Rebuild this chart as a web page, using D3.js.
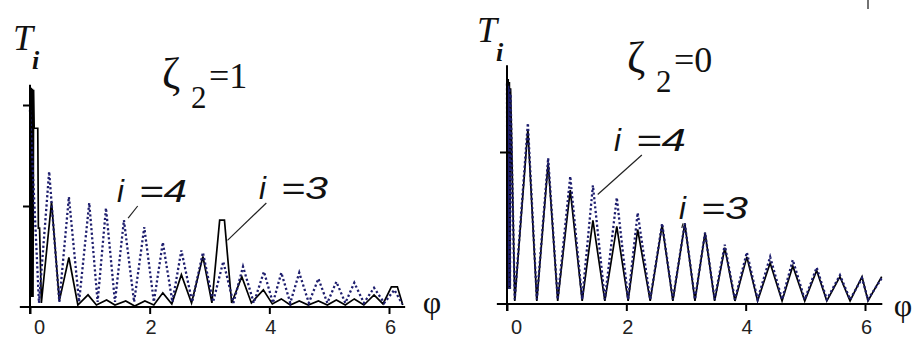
<!DOCTYPE html>
<html>
<head>
<meta charset="utf-8">
<script src="https://cdn.jsdelivr.net/npm/d3@7"></script>
<style>
  body { margin: 0; background: #fff; }
  svg { display: block; }
</style>
</head>
<body>
<div id="chart"></div>
<script>
// x tick labels shared by both panels
var xTicks = [0, 2, 4, 6];

// left panel, zeta2 = 1
var leftPhi3 = [0, 0.01, 0.02, 0.03, 0.04, 0.05, 0.06, 0.07, 0.13, 0.14, 0.16, 0.19, 0.36, 0.49, 0.65, 0.80, 0.97, 1.11, 1.28, 1.42, 1.60, 1.75, 1.92, 2.07, 2.22, 2.37, 2.53, 2.70, 2.89, 3.04, 3.17, 3.25, 3.37, 3.54, 3.70, 3.90, 4.05, 4.20, 4.35, 4.50, 4.65, 4.82, 4.97, 5.12, 5.27, 5.42, 5.58, 5.75, 5.90, 6.04, 6.14, 6.23];
var leftT3 = [2.18, 0.1, 2.17, 0.1, 2.16, 0.1, 2.15, 1.77, 1.77, 0.78, 0.78, 0.04, 1.04, 0.06, 0.49, 0.02, 0.12, 0.02, 0.07, 0.02, 0.06, 0.01, 0.06, 0.02, 0.14, 0.03, 0.32, 0.04, 0.50, 0.04, 0.86, 0.86, 0.04, 0.30, 0.04, 0.17, 0.03, 0.08, 0.02, 0.06, 0.02, 0.06, 0.02, 0.07, 0.02, 0.08, 0.02, 0.12, 0.03, 0.20, 0.20, 0.02];
var leftPhi4 = [0, 0.15, 0.32, 0.49, 0.65, 0.82, 0.99, 1.13, 1.27, 1.42, 1.57, 1.74, 1.91, 2.07, 2.22, 2.38, 2.53, 2.71, 2.89, 3.06, 3.23, 3.40, 3.56, 3.74, 3.91, 4.06, 4.20, 4.35, 4.50, 4.66, 4.82, 4.97, 5.12, 5.27, 5.42, 5.58, 5.75, 5.92, 6.09, 6.22];
var leftT4 = [1.95, 0.04, 1.34, 0.05, 1.09, 0.05, 1.03, 0.05, 0.98, 0.05, 0.86, 0.05, 0.79, 0.05, 0.64, 0.05, 0.56, 0.05, 0.54, 0.05, 0.45, 0.04, 0.40, 0.04, 0.35, 0.04, 0.34, 0.04, 0.34, 0.04, 0.28, 0.04, 0.25, 0.04, 0.24, 0.04, 0.19, 0.04, 0.17, 0.03];

// right panel, zeta2 = 0
var rightPhi = [0, 0.01, 0.02, 0.03, 0.04, 0.05, 0.06, 0.13, 0.35, 0.50, 0.69, 0.85, 1.06, 1.26, 1.44, 1.64, 1.84, 2.03, 2.19, 2.40, 2.60, 2.78, 2.98, 3.15, 3.32, 3.48, 3.65, 3.82, 4.02, 4.20, 4.41, 4.61, 4.79, 4.99, 5.19, 5.36, 5.58, 5.75, 5.95, 6.05, 6.28];
var rightT3 = [1.49, 0.1, 1.48, 0.1, 1.46, 0.1, 1.42, 0.02, 1.15, 0.02, 0.93, 0.02, 0.75, 0.02, 0.55, 0.02, 0.51, 0.02, 0.49, 0.02, 0.52, 0.02, 0.53, 0.02, 0.47, 0.02, 0.37, 0.02, 0.31, 0.02, 0.27, 0.02, 0.25, 0.02, 0.22, 0.02, 0.18, 0.02, 0.18, 0.02, 0.18];
var rightT4 = [1.45, 0.1, 1.44, 0.1, 1.42, 0.1, 1.38, 0.03, 1.19, 0.03, 0.96, 0.03, 0.84, 0.03, 0.78, 0.03, 0.70, 0.03, 0.60, 0.03, 0.53, 0.03, 0.53, 0.03, 0.47, 0.03, 0.39, 0.03, 0.34, 0.03, 0.31, 0.03, 0.29, 0.03, 0.24, 0.03, 0.19, 0.03, 0.17, 0.03, 0.17];

var width = 912, height = 338;
var navy = "#1e1e6e";
var serif = "Liberation Serif, Times New Roman, serif";
var sans = "Liberation Sans, Arial, sans-serif";

var svg = d3.select("#chart").append("svg")
    .attr("width", width)
    .attr("height", height);

svg.append("rect").attr("width", width).attr("height", height).attr("fill", "#fff");

function zip(a, b) { return a.map(function(v, i) { return [v, b[i]]; }); }

var panels = [
    { x: d3.scaleLinear().domain([0, 6]).range([30, 389]),
      y: d3.scaleLinear().domain([0, 2]).range([307, 105]),
      yTicks: [1, 2], yTop: 2.2, xEnd: 6.27,
      s3: zip(leftPhi3, leftT3), s4: zip(leftPhi4, leftT4),
      zeta: "1", tx: 13, ty: 50, zx: 162, zy: 88, phiX: 432, phiY: 313,
      lab4: { x: 117, y: 202, w: 48, line: [[1.8, 1.0], [1.64, 0.88]] },
      lab3: { x: 259, y: 199, w: 47, line: [[3.95, 1.03], [3.3, 0.66]] } },
    { x: d3.scaleLinear().domain([0, 6]).range([507, 865]),
      y: d3.scaleLinear().domain([0, 1]).range([304, 152]),
      yTicks: [1], yTop: 1.57, xEnd: 6.29,
      s3: zip(rightPhi, rightT3), s4: zip(rightPhi, rightT4),
      zeta: "0", tx: 477, ty: 42, zx: 627, zy: 72, phiX: 903, phiY: 316,
      lab4: { x: 614, y: 151, w: 50, line: [[2.26, 0.98], [1.52, 0.72]] },
      lab3: { x: 679, y: 219, w: 47, line: [[2.95, 0.53], [2.93, 0.50]] } }
];

panels.forEach(function(p) {
    var x = p.x, y = p.y;
    var g = svg.append("g");

    var line = d3.line()
        .x(function(d) { return x(d[0]); })
        .y(function(d) { return y(d[1]); });

    // i = 3, solid black
    g.append("path")
        .datum(p.s3)
        .attr("d", line)
        .attr("fill", "none")
        .attr("stroke", "#000")
        .attr("stroke-width", 1.7);

    // i = 4, dotted navy
    g.append("path")
        .datum(p.s4)
        .attr("d", line)
        .attr("fill", "none")
        .attr("stroke", navy)
        .attr("stroke-width", 2.3)
        .attr("stroke-dasharray", "2.2,2.4");

    // x axis
    var xAxis = g.append("g")
        .attr("transform", "translate(0," + y(0) + ")")
        .call(d3.axisBottom(x).tickValues(xTicks).tickSize(7).tickFormat(d3.format("d")));
    xAxis.select(".domain").remove();
    xAxis.selectAll("line").attr("stroke", "#000").attr("stroke-width", 2);
    xAxis.selectAll("text")
        .attr("font-family", sans)
        .attr("font-size", 20)
        .attr("fill", "#222")
        .attr("dy", null)
        .attr("y", 334 - y(0))
        .attr("dx", function(d) { return d === 0 ? 9 : 1; });
    xAxis.append("line")
        .attr("x1", x(-0.17)).attr("x2", x(p.xEnd))
        .attr("stroke", "#000").attr("stroke-width", 2);

    // y axis
    var yAxis = g.append("g")
        .attr("transform", "translate(" + x(0) + ",0)")
        .call(d3.axisLeft(y).tickValues(p.yTicks).tickSize(6).tickFormat(""));
    yAxis.select(".domain").remove();
    yAxis.selectAll(".tick line").attr("x1", 4).attr("x2", -7).attr("stroke", "#000").attr("stroke-width", 2);
    yAxis.append("line")
        .attr("y1", y(p.yTop)).attr("y2", y(0) + 7)
        .attr("stroke", "#000").attr("stroke-width", 2);

    // axis names
    g.append("text")
        .attr("x", p.tx).attr("y", p.ty)
        .attr("font-family", serif)
        .attr("font-style", "italic")
        .attr("font-size", 36)
        .attr("fill", "#111")
        .text("T");
    g.append("text")
        .attr("x", p.tx + 19).attr("y", p.ty + 19)
        .attr("font-family", serif)
        .attr("font-style", "italic")
        .attr("font-weight", "bold")
        .attr("font-size", 26)
        .attr("fill", "#111")
        .text("i");
    g.append("text")
        .attr("x", p.phiX).attr("y", p.phiY)
        .attr("text-anchor", "middle")
        .attr("font-family", serif)
        .attr("font-size", 32)
        .attr("fill", "#111")
        .text("\u03C6");

    // zeta title
    g.append("text")
        .attr("x", p.zx).attr("y", p.zy)
        .attr("font-family", serif).attr("font-size", 44).attr("fill", "#111")
        .text("\u03B6");
    g.append("text")
        .attr("x", p.zx + 29).attr("y", p.zy + 20)
        .attr("font-family", serif).attr("font-size", 31).attr("fill", "#111")
        .text("2");
    g.append("text")
        .attr("x", p.zx + 47).attr("y", p.zy)
        .attr("font-family", serif).attr("font-size", 36).attr("fill", "#111")
        .text("=" + p.zeta);

    // curve labels
    [[p.lab4, "4"], [p.lab3, "3"]].forEach(function(l) {
        var o = l[0];
        g.append("text")
            .attr("x", o.x).attr("y", o.y)
            .attr("font-family", sans)
            .attr("font-style", "italic")
            .attr("font-size", 31)
            .attr("fill", "#111")
            .text("i");
        g.append("text")
            .attr("x", o.x + 22).attr("y", o.y)
            .attr("font-family", sans)
            .attr("font-style", "italic")
            .attr("font-size", 31)
            .attr("fill", "#111")
            .attr("textLength", o.w)
            .attr("lengthAdjust", "spacingAndGlyphs")
            .text("=" + l[1]);
        g.append("line")
            .attr("x1", x(o.line[0][0])).attr("y1", y(o.line[0][1]))
            .attr("x2", x(o.line[1][0])).attr("y2", y(o.line[1][1]))
            .attr("stroke", "#222")
            .attr("stroke-width", 1.2);
    });
});

// small stray mark at the top right corner of the source scan
svg.append("line")
    .attr("x1", 868).attr("x2", 868).attr("y1", 0).attr("y2", 9)
    .attr("stroke", "#444").attr("stroke-width", 1.5);
</script>
</body>
</html>
